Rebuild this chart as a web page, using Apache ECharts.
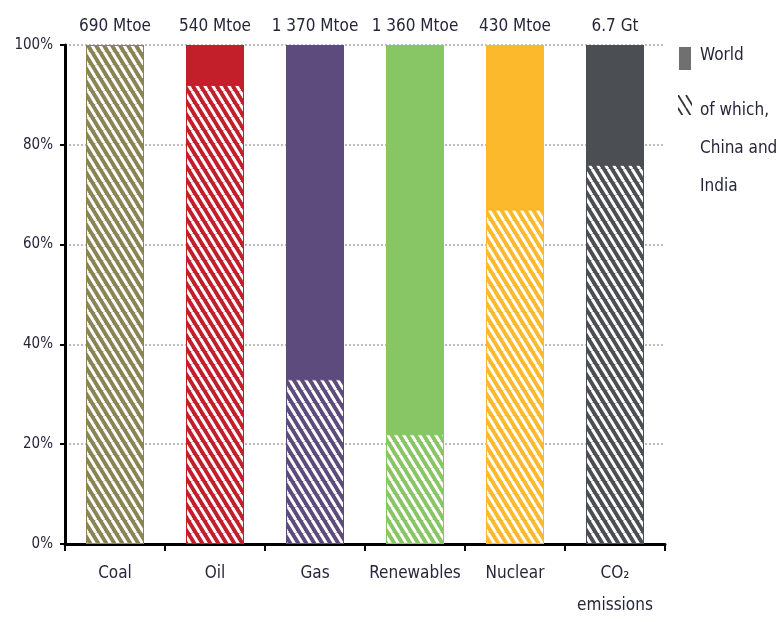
<!DOCTYPE html>
<html>
<head>
<meta charset="utf-8">
<script src="https://cdn.jsdelivr.net/npm/echarts@6/dist/echarts.min.js"></script>
<style>
  html, body { margin: 0; padding: 0; background: #fff; }
  #chart { width: 778px; height: 622px; }
</style>
</head>
<body>
<div id="chart"></div>
<script>
// Share of world total attributable to China and India (percent)
const categories = ['Coal', 'Oil', 'Gas', 'Renewables', 'Nuclear', 'CO₂\nemissions'];
const worldShare = [100, 100, 100, 100, 100, 100];
const chinaIndiaShare = [100, 92, 33, 22, 67, 76];
const worldTotals = ['690 Mtoe', '540 Mtoe', '1 370 Mtoe', '1 360 Mtoe', '430 Mtoe', '6.7 Gt'];
const yTickValues = [0, 20, 40, 60, 80, 100];

const barColors = ['#8a8455', '#c21f2b', '#5e4b7d', '#88c565', '#fdb92c', '#4b4f53'];
const FONT = '"Liberation Sans Narrow", "DejaVu Sans Condensed", "Liberation Sans", sans-serif';
const TEXT = '#26263a';

// Diagonal hatch fill: steep stripes running top-left to bottom-right
function hatch(bg, fg, lw) {
  const w = 8, h = 13;
  const c = document.createElement('canvas');
  c.width = w; c.height = h;
  const g = c.getContext('2d');
  if (bg) { g.fillStyle = bg; g.fillRect(0, 0, w, h); }
  g.strokeStyle = fg;
  g.lineWidth = lw;
  for (let k = -1; k <= 1; k++) {
    g.beginPath();
    g.moveTo(k * w, 0);
    g.lineTo(k * w + w, h);
    g.stroke();
  }
  return { image: c, repeat: 'repeat' };
}

const chart = echarts.init(document.getElementById('chart'));

chart.setOption({
  animation: false,
  backgroundColor: '#fff',
  grid: { left: 65, right: 113, top: 45, bottom: 74, containLabel: false },
  xAxis: {
    type: 'category',
    data: categories,
    axisLine: { lineStyle: { color: '#000', width: 3 } },
    axisTick: { show: true, length: 7, lineStyle: { color: '#000', width: 2 } },
    axisLabel: {
      color: TEXT, fontFamily: FONT, fontSize: 17, margin: 14, lineHeight: 32,
      interval: 0
    }
  },
  yAxis: {
    type: 'value',
    min: 0, max: 100, interval: 20,
    axisLine: { show: true, lineStyle: { color: '#000', width: 3 } },
    axisTick: { show: true, length: 5, lineStyle: { color: '#000', width: 2 } },
    axisLabel: {
      color: TEXT, fontFamily: FONT, fontSize: 15, margin: 12,
      formatter: v => (yTickValues.includes(v) ? v + '%' : '')
    },
    splitLine: { show: true, lineStyle: { color: '#bdbdbd', width: 2, type: [2, 2] } }
  },
  series: [
    {
      name: 'World',
      type: 'bar',
      barWidth: '58%',
      barGap: '-100%',
      z: 2,
      itemStyle: { color: '#707070' },
      data: worldShare.map((v, i) => ({ value: v, itemStyle: { color: barColors[i] } })),
      label: {
        show: true, position: 'top', distance: 10,
        color: TEXT, fontFamily: FONT, fontSize: 17,
        formatter: p => worldTotals[p.dataIndex]
      }
    },
    {
      name: 'of which, China and India',
      type: 'bar',
      barWidth: '58%',
      barGap: '-100%',
      z: 3,
      itemStyle: { color: hatch(null, '#333', 1.8) },
      data: chinaIndiaShare.map((v, i) => ({
        value: v,
        itemStyle: { color: hatch(barColors[i], '#ffffff', 3), borderColor: barColors[i], borderWidth: 1 }
      }))
    }
  ],
  graphic: [
    { type: 'rect', left: 679, top: 47, shape: { width: 12, height: 23 }, style: { fill: '#707070' } },
    { type: 'text', left: 700, top: 47, style: { text: 'World', fill: TEXT, font: '17px ' + FONT } },
    { type: 'rect', left: 678, top: 95, shape: { width: 14, height: 20 }, style: { fill: hatch(null, '#333', 1.8) } },
    {
      type: 'text', left: 700, top: 92,
      style: { text: 'of which,\nChina and\nIndia', fill: TEXT, font: '17px ' + FONT, lineHeight: 38 }
    }
  ]
});
</script>
</body>
</html>
